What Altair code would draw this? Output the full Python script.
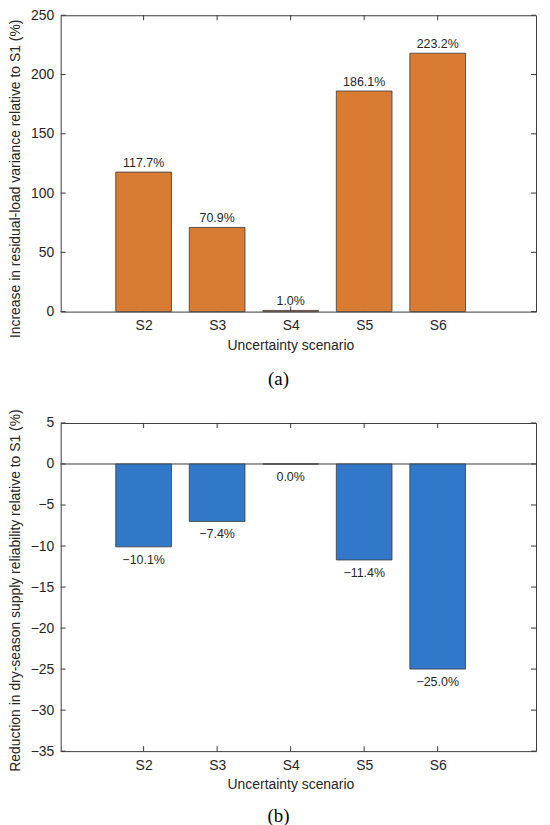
import altair as alt
import pandas as pd

scenarios = ["S2", "S3", "S4", "S5", "S6"]
positions = [1, 2, 3, 4, 5]

variance_bar = [117.7, 71.0, 1.0, 186.1, 218.0]
variance_label = [117.7, 70.9, 1.0, 186.1, 223.2]
variance_ticks = [0, 50, 100, 150, 200, 250]

# Panel (b)
reliability_bar = [-10.1, -7.0, 0.0, -11.7, -25.0]
reliability_label = [-10.1, -7.4, 0.0, -11.4, -25.0]
reliability_ticks = [5, 0, -5, -10, -15, -20, -25, -30, -35]

ORANGE = "#D97C33"
BLUE = "#3179C8"
AXIS = "#3a3a3a"
TEXT = "#262626"
SANS = "Liberation Sans"
SERIF = "Liberation Serif"

W = 478
XDOM = [-0.06, 6.27]
label_expr = f"{scenarios}[datum.value - 1]"


def panel(bar_vals, lab_vals, ticks, ydom, H, color, ytitle, title_y, caption, cap_offset, negative):
    df = pd.DataFrame({"pos": positions, "val": bar_vals, "lab": lab_vals})
    tdf = pd.DataFrame({"v": ticks})
    pdf = pd.DataFrame({"p": positions})
    xs = alt.Scale(domain=XDOM, nice=False, zero=False)
    ys = alt.Scale(domain=ydom, nice=False)

    base = alt.Chart(df)
    bars = base.mark_bar(size=56, color=color, stroke="#3a3a3a", strokeWidth=0.8).encode(
        x=alt.X("pos:Q", scale=xs,
                axis=alt.Axis(values=positions, labelExpr=label_expr,
                              title="Uncertainty scenario", grid=False, ticks=False,
                              tickSize=0, domain=False, labelPadding=7,
                              titlePadding=6, titleX=231)),
        y=alt.Y("val:Q", scale=ys,
                axis=alt.Axis(values=ticks, title=ytitle, grid=False, ticks=False,
                              tickSize=0, domain=False, labelPadding=7,
                              minExtent=31, maxExtent=31, titlePadding=7,
                              titleY=title_y)),
    )
    if negative:
        texts = base.mark_text(baseline="top", dy=7, font=SANS, fontSize=12.5, color=TEXT)
    else:
        texts = base.mark_text(baseline="alphabetic", dy=-5, font=SANS, fontSize=12.5, color=TEXT)
    texts = texts.transform_calculate(
        t="format(datum.lab, '.1f') + '%'"
    ).encode(x=alt.X("pos:Q", scale=xs), y=alt.Y("val:Q", scale=ys), text="t:N")

    tl = alt.Chart(tdf).mark_rule(color=AXIS, strokeWidth=1).encode(
        y=alt.Y("v:Q", scale=ys), x=alt.value(0), x2=alt.value(5))
    tr = alt.Chart(tdf).mark_rule(color=AXIS, strokeWidth=1).encode(
        y=alt.Y("v:Q", scale=ys), x=alt.value(W - 5), x2=alt.value(W))
    tt = alt.Chart(pdf).mark_rule(color=AXIS, strokeWidth=1).encode(
        x=alt.X("p:Q", scale=xs), y=alt.value(0), y2=alt.value(5))
    tb = alt.Chart(pdf).mark_rule(color=AXIS, strokeWidth=1).encode(
        x=alt.X("p:Q", scale=xs), y=alt.value(H - 5), y2=alt.value(H))

    layers = [tl, tr, tt, tb]
    if negative:
        zero = alt.Chart(pd.DataFrame({"z": [0]})).mark_rule(color=AXIS, strokeWidth=1).encode(
            y=alt.Y("z:Q", scale=ys))
        layers.append(zero)
    layers += [bars, texts]
    return alt.layer(*layers).properties(
        width=W, height=H,
        title=alt.TitleParams(text=caption, orient="bottom", font=SERIF, fontSize=19,
                              fontWeight="normal", color="black", dx=-20, offset=cap_offset),
    )


pa = panel(variance_bar, variance_label, variance_ticks, [0, 250], 298, ORANGE,
           "Increase in residual-load variance relative to S1 (%)", 164, "(a)", 18, False)
pb = panel(reliability_bar, reliability_label, reliability_ticks, [-35, 5], 330, BLUE,
           "Reduction in dry-season supply reliability relative to S1 (%)", 168, "(b)", 15, True)

chart = alt.vconcat(pa, pb, spacing=18).properties(
    padding={"left": 0, "top": -3, "right": 5, "bottom": 0},
    background="white",
).configure_view(
    stroke=AXIS, strokeWidth=1
).configure_axis(
    labelFont=SANS, labelFontSize=14, labelColor=TEXT,
    titleFont=SANS, titleFontSize=14, titleFontWeight="normal", titleColor=TEXT,
)

chart.save("out.html", embed_options={"renderer": "svg", "actions": False})
